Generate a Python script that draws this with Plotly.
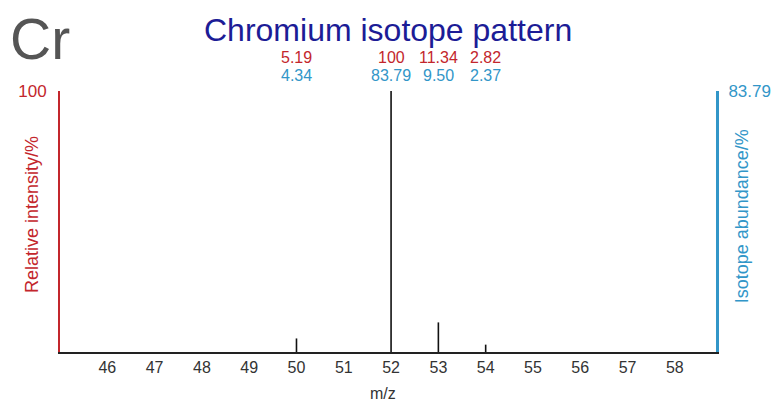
import plotly.graph_objects as go

# ---- data ----
mz = [50, 52, 53, 54]
relative_intensity = [5.19, 100, 11.34, 2.82]
isotope_abundance = [4.34, 83.79, 9.50, 2.37]
x_ticks = [46, 47, 48, 49, 50, 51, 52, 53, 54, 55, 56, 57, 58]
element = "Cr"
title = "Chromium isotope pattern"

RED = "#c3262c"
BLUE = "#3296c8"
FONT = "Liberation Sans"

xs, ys = [], []
for m, v in zip(mz, relative_intensity):
    xs += [m, m, None]
    ys += [0, v, None]

fig = go.Figure()
fig.add_trace(go.Scatter(x=xs, y=ys, mode="lines",
                         line=dict(color="#111111", width=1.6),
                         hoverinfo="skip", showlegend=False))
fig.add_trace(go.Scatter(x=mz, y=isotope_abundance, yaxis="y2", mode="markers",
                         marker=dict(opacity=0), hoverinfo="skip", showlegend=False))

annotations = []
for m, r, a in zip(mz, relative_intensity, isotope_abundance):
    annotations.append(dict(x=m, y=1, xref="x", yref="paper", text=f"{r:g}",
                            showarrow=False, yanchor="middle", yshift=34, borderpad=0,
                            font=dict(color=RED, size=16, family=FONT)))
    annotations.append(dict(x=m, y=1, xref="x", yref="paper", text=f"{a:.2f}",
                            showarrow=False, yanchor="middle", yshift=16, borderpad=0,
                            font=dict(color=BLUE, size=16, family=FONT)))

annotations += [
    dict(x=0, y=1, xref="paper", yref="paper", xshift=-52, yshift=52,
         xanchor="left", yanchor="middle", text=element, showarrow=False,
         font=dict(color="#555555", size=57, family=FONT)),
    dict(x=0.5, y=1, xref="paper", yref="paper", yshift=61, xanchor="center",
         text=title, showarrow=False, yanchor="middle",
         font=dict(color="#1c1c96", size=32, family=FONT)),
    dict(x=0, y=0.525, xref="paper", yref="paper", xshift=-28, text="Relative intensity/%",
         xanchor="center", yanchor="middle",
         textangle=-90, showarrow=False, font=dict(color=RED, size=18, family=FONT)),
    dict(x=1, y=0.52, xref="paper", yref="paper", xshift=26, text="Isotope abundance/%",
         xanchor="center", yanchor="middle",
         textangle=-90, showarrow=False, font=dict(color=BLUE, size=18, family=FONT)),
    dict(x=0.493, y=0, xref="paper", yref="paper", yshift=-41, text="m/z",
         xanchor="center", showarrow=False, yanchor="middle",
         font=dict(color="#333333", size=16, family=FONT)),
]

fig.update_layout(
    width=774, height=403,
    margin=dict(l=60, r=58, t=91, b=51, autoexpand=False),
    paper_bgcolor="white", plot_bgcolor="white",
    font=dict(family=FONT, size=16, color="#333333"),
    showlegend=False,
    xaxis=dict(range=[45, 58.87], tickvals=x_ticks, ticktext=[str(t) for t in x_ticks],
               showgrid=False, zeroline=False, showline=True, linecolor="#222222",
               linewidth=2, ticks="", automargin=False,
               tickfont=dict(size=16, color="#333333")),
    yaxis=dict(range=[0, 100], tickvals=[100], ticktext=["100"], showgrid=False,
               zeroline=False, showline=True, linecolor=RED, linewidth=2, ticks="",
               automargin=False, ticklabelstandoff=8, tickfont=dict(color=RED, size=17)),
    yaxis2=dict(range=[0, 83.79], overlaying="y", side="right", tickvals=[83.79],
                ticktext=["83.79"], showgrid=False, zeroline=False, showline=True,
                linecolor=BLUE, linewidth=3, ticks="", automargin=False,
                ticklabelstandoff=6, tickfont=dict(color=BLUE, size=17)),
    annotations=annotations,
)

fig.write_html("out.html", config={"displayModeBar": False},
               post_script="document.body.style.margin='0';")
